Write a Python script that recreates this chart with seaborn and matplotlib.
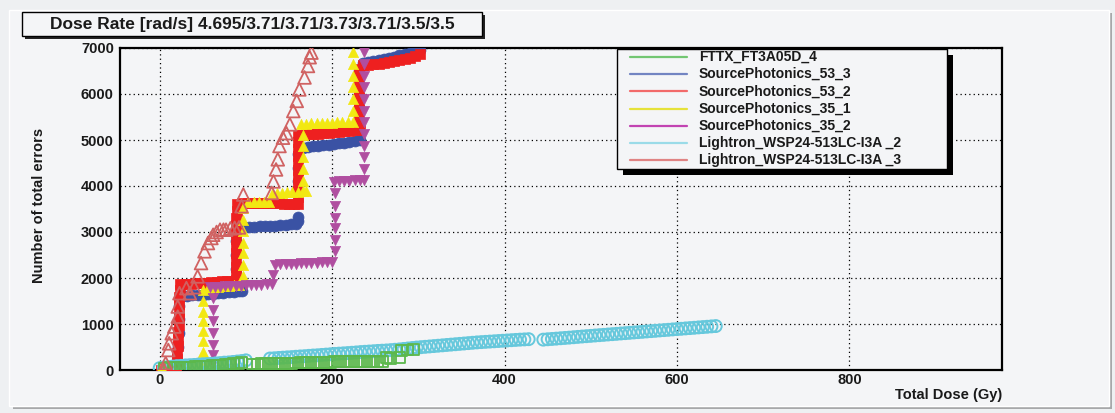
import matplotlib
matplotlib.use("Agg")
import matplotlib.pyplot as plt
import seaborn as sns
from matplotlib.patches import Rectangle
from matplotlib.lines import Line2D
from matplotlib.ticker import MultipleLocator

# ---------------- data ----------------
series_names = ["FTTX_FT3A05D_4", "SourcePhotonics_53_3", "SourcePhotonics_53_2",
                "SourcePhotonics_35_1", "SourcePhotonics_35_2",
                "Lightron_WSP24-513LC-I3A _2", "Lightron_WSP24-513LC-I3A _3"]

fttx_x = [6, 11, 16, 21, 26, 31, 36, 41, 46, 51, 56, 61, 66, 71, 76, 81, 86, 91, 95,
          108, 113, 118, 123, 128, 133, 138, 143, 148, 153, 158, 163, 168, 173, 178,
          183, 188, 193, 198, 203, 208, 213, 218, 223, 228, 233, 238, 243, 248, 253, 258,
          263, 268, 278, 280, 287, 294]
fttx_y = [40, 45, 50, 55, 60, 60, 65, 70, 75, 80, 85, 90, 95, 100, 110, 120, 135, 150, 165,
          130, 130, 132, 135, 137, 140, 142, 145, 147, 150, 152, 155, 158, 160, 162,
          165, 167, 170, 172, 175, 175, 178, 180, 180, 182, 185, 185, 188, 190, 190, 192,
          265, 260, 265, 430, 435, 440]

sp533_x = [20, 21, 22, 22, 23,
           26, 32, 38, 44, 50, 56, 62, 68, 74, 80, 86, 92, 96,
           89, 89, 89, 89, 90,
           98, 104, 110, 116, 122, 128, 134, 140, 146, 152, 158, 161, 161,
           160, 160, 160, 161,
           166, 172, 178, 184, 190, 196, 202, 208, 214, 220, 226, 232,
           231, 231, 231, 231,
           236, 242, 248, 254, 260, 266, 272, 278, 284, 290, 296, 302]
sp533_y = [200, 500, 800, 1100, 1400,
           1600, 1610, 1620, 1630, 1640, 1650, 1660, 1670, 1680, 1690, 1700, 1710, 1720,
           1900, 2200, 2500, 2800, 3050,
           3100, 3110, 3115, 3120, 3130, 3135, 3140, 3150, 3155, 3165, 3180, 3230, 3330,
           3800, 4100, 4400, 4700,
           4830, 4850, 4860, 4870, 4885, 4900, 4910, 4925, 4940, 4955, 4970, 4990,
           5300, 5700, 6100, 6500,
           6680, 6700, 6720, 6740, 6760, 6780, 6810, 6840, 6870, 6900, 6930, 6960]

sp532_x = [1, 6, 12,
           19, 20, 20, 21, 21, 21, 22, 22, 22, 23, 23, 24, 24,
           30, 36, 42, 48, 54, 60, 66, 72, 78, 84, 88,
           89, 89, 89, 89, 89, 89, 89, 89, 89, 90, 90,
           96, 102, 108, 114, 120, 126, 132, 138, 144, 150, 156, 161,
           160, 160, 160, 160, 160, 160, 160, 160, 160, 161,
           166, 172, 178, 184, 190, 196, 202, 208, 214, 220, 226, 232,
           231, 231, 231, 231, 231, 231, 231, 231, 231,
           236, 242, 248, 254, 260, 266, 272, 278, 284, 290, 296, 302]
sp532_y = [10, 20, 30,
           80, 230, 380, 530, 680, 830, 980, 1130, 1280, 1430, 1580, 1730, 1860,
           1870, 1880, 1885, 1890, 1900, 1905, 1915, 1925, 1935, 1945, 1960,
           2100, 2250, 2400, 2550, 2700, 2850, 3000, 3150, 3300, 3450, 3600,
           3640, 3640, 3635, 3630, 3630, 3625, 3620, 3620, 3615, 3610, 3610, 3605,
           3750, 3900, 4050, 4200, 4350, 4500, 4650, 4800, 4950, 5100,
           5110, 5120, 5130, 5140, 5150, 5160, 5170, 5180, 5190, 5200, 5210, 5220,
           5350, 5500, 5650, 5800, 5950, 6100, 6250, 6400, 6550,
           6620, 6640, 6650, 6660, 6670, 6690, 6710, 6730, 6760, 6790, 6820, 6860]

sp351_x = [0, 4,
           50, 50, 50, 50, 50, 50, 50, 50,
           56, 62, 68, 74, 80, 86, 92,
           97, 97, 97, 97, 97, 97, 97,
           103, 109, 115, 121, 127,
           130, 136, 142, 148, 154, 160, 166, 170,
           166, 166, 166, 166, 166,
           164, 170, 176, 182, 188, 194, 200, 206, 212, 218, 224,
           224, 224, 224, 224, 224, 224]
sp351_y = [0, 10,
           145, 400, 620, 840, 1055, 1270, 1490, 1745,
           1790, 1800, 1810, 1820, 1830, 1840, 1850,
           2035, 2290, 2545, 2760, 3015, 3270, 3525,
           3650, 3650, 3655, 3660, 3660,
           3830, 3840, 3850, 3860, 3870, 3880, 3890, 3890,
           4100, 4360, 4620, 4860, 5100,
           5340, 5350, 5360, 5370, 5370, 5380, 5380, 5390, 5390, 5400, 5400,
           5630, 5890, 6150, 6390, 6650, 6910]

sp352_x = [62, 62, 62, 62, 62, 62, 62,
           58, 64, 70, 76, 82, 88, 94, 100, 106, 112, 118, 124, 130,
           131,
           134, 140, 146, 152, 158, 164, 170, 176, 182, 188, 194, 200,
           203, 203, 203, 203, 203, 203,
           202, 208, 214, 220, 226, 232, 237,
           237, 237, 237, 237, 237, 237, 237, 237, 237, 237, 237]
sp352_y = [145, 330, 545, 800, 1055, 1310, 1560,
           1800, 1810, 1815, 1820, 1825, 1830, 1835, 1840, 1845, 1850, 1855, 1860, 1870,
           2070,
           2290, 2300, 2305, 2310, 2315, 2320, 2325, 2330, 2335, 2340, 2345, 2350,
           2580, 2835, 3090, 3310, 3560, 3850,
           4090, 4100, 4105, 4110, 4120, 4130, 4140,
           4360, 4620, 4860, 5120, 5385, 5630, 5890, 6150, 6390, 6650, 6910]

li2_x = [0, 5, 10, 15, 20, 25, 30, 35, 40, 45, 50, 55, 60, 65, 70, 75, 80, 85, 90, 95, 100,
         128, 133, 138, 143, 148, 153, 158, 163, 168, 173, 178, 183, 188, 193, 198, 203,
         208, 213, 218, 223, 228, 233, 238, 243, 248, 253, 258, 263, 268, 273, 278, 283,
         288, 293, 298, 303, 308, 313, 318, 323, 328, 333, 338, 343, 348, 353, 358, 363,
         368, 373, 378, 383, 388, 393, 398, 403, 408, 413, 418, 423, 428,
         445, 450, 455, 460, 465, 470, 475, 480, 485, 490, 495, 500, 505, 510, 515, 520,
         525, 530, 535, 540, 545, 550, 555, 560, 565, 570, 575, 580, 585, 590, 595, 600,
         605, 610, 615, 620, 625, 630, 635, 640, 645]
li2_y = [40, 55, 65, 75, 85, 90, 100, 105, 110, 120, 125, 130, 135, 145, 150, 160, 165,
         175, 185, 195, 210,
         250, 255, 262, 268, 275, 280, 288, 295, 300, 308, 315, 320, 328, 335, 342, 350,
         356, 362, 368, 375, 382, 390, 396, 402, 408, 415, 420, 425, 432, 440, 448, 458,
         468, 478, 488, 496, 504, 512, 520, 528, 536, 544, 552, 560, 568, 576, 584, 592,
         600, 606, 612, 618, 624, 630, 636, 642, 648, 654, 660, 665, 670,
         660, 668, 675, 682, 690, 697, 704, 712, 720, 728, 735, 742, 750, 757, 764, 772,
         779, 786, 794, 801, 808, 816, 823, 830, 838, 845, 852, 860, 867, 874, 882, 889,
         896, 904, 911, 918, 926, 933, 940, 948, 955]

li3_x = [5, 7, 10, 11, 14, 17, 21, 21, 23, 31, 35, 40, 44, 48, 52, 56, 60, 62, 66,
         70, 74, 77, 82, 87, 92, 95, 97, 130, 132, 135, 137, 139, 143, 147, 151, 155,
         159, 162, 168, 172, 174, 176]
li3_y = [0, 150, 435, 580, 800, 945, 1160, 1380, 1670, 1780, 1670, 1800, 2035, 2325,
         2580, 2760, 2870, 2940, 3000, 3050, 3050, 3050, 3080, 3090, 3100, 3560, 3815,
         3850, 4100, 4360, 4580, 4870, 5050, 5150, 5340, 5630, 5850, 6100, 6360, 6610,
         6800, 6900]

x_ticks = [0, 200, 400, 600, 800]
y_ticks = [0, 1000, 2000, 3000, 4000, 5000, 6000, 7000]
title_text = "Dose Rate [rad/s] 4.695/3.71/3.71/3.73/3.71/3.5/3.5"

# ---------------- styling ----------------
W, H = 1115, 413
BG = "#f4f5f7"
sns.set_theme(style="white")
plt.rcParams["font.family"] = ["Liberation Sans", "DejaVu Sans"]
plt.rcParams["font.weight"] = "bold"

fig = plt.figure(figsize=(W / 100, H / 100), dpi=100, facecolor="#eef0f2")


def rect(px0, py0, px1, py1, **kw):
    return Rectangle((px0 / W, 1 - py1 / H), (px1 - px0) / W, (py1 - py0) / H,
                     transform=fig.transFigure, **kw)


# canvas frame with shadow
fig.add_artist(rect(13, 13, 1112, 409, fc="#a7a8aa", ec="none", zorder=-3))
fig.add_artist(rect(9, 10, 1109, 406, fc=BG, ec="#ffffff", lw=1, zorder=-2))

ax = fig.add_axes([120 / W, 1 - 370 / H, 882 / W, 322 / H])
ax.set_facecolor(BG)

colors = ["#5cb84c", "#3a52a4", "#ee2020", "#f2e812", "#b04ea0", "#66c8dc", "#d06262"]
leg_colors = ["#72c672", "#7284c2", "#f26a6a", "#e6e23a", "#c244b2", "#9adbe8", "#e08484"]

# (x, y, marker, hollow, size, linewidth, zorder)
specs = [
    (fttx_x, fttx_y, "s", True, 62, 1.3, 9),
    (sp533_x, sp533_y, "o", False, 62, 0.5, 3),
    (sp532_x, sp532_y, "s", False, 60, 0.5, 4),
    (sp351_x, sp351_y, "^", False, 54, 0.5, 5),
    (sp352_x, sp352_y, "v", False, 54, 0.5, 6),
    (li2_x, li2_y, "o", True, 74, 1.4, 8),
    (li3_x, li3_y, "^", True, 84, 1.3, 10),
]
for i, (xs, ys, m, hollow, s, lw, z) in enumerate(specs):
    c = colors[i]
    sns.scatterplot(x=xs, y=ys, ax=ax, marker=m, s=s, color=c,
                    facecolor="none" if hollow else c, edgecolor=c,
                    linewidth=lw, legend=False, zorder=z)

ax.set_xlim(-46, 977)
ax.set_ylim(0, 7000)
ax.set_xticks(x_ticks)
ax.set_yticks(y_ticks)
ax.xaxis.set_minor_locator(MultipleLocator(50))
ax.yaxis.set_minor_locator(MultipleLocator(200))
ax.tick_params(axis="both", which="both", direction="in", top=False, right=False,
               colors="black", labelsize=10.5, width=1)
ax.tick_params(axis="y", which="major", length=8, pad=4.5)
ax.tick_params(axis="y", which="minor", length=7)
ax.tick_params(axis="x", which="major", length=7, pad=2.5)
ax.tick_params(axis="x", which="minor", length=3.5)
for lab in ax.get_xticklabels() + ax.get_yticklabels():
    lab.set_fontweight("bold")
    lab.set_color("#1a1a1a")
for sp in ax.spines.values():
    sp.set_color("black")
    sp.set_linewidth(1.6)
ax.grid(True, which="major", color="black", linestyle=(0, (1, 2.5)), linewidth=0.9)
ax.set_axisbelow(True)

ax.set_xlabel("Total Dose (Gy)", fontsize=10.5, fontweight="bold", color="#1a1a1a")
ax.xaxis.set_label_coords(1.0, -0.056)
ax.xaxis.label.set_horizontalalignment("right")
ax.set_ylabel("Number of total errors", fontsize=10.5, fontweight="bold", color="#1a1a1a")
ax.yaxis.set_label_coords(-0.084, 0.51)

# title box with shadow
fig.add_artist(rect(25, 15, 485, 39, fc="#222222", ec="none", zorder=8))
fig.add_artist(rect(22, 12, 482, 36, fc=BG, ec="black", lw=1, zorder=9))
fig.text(252 / W, 1 - 24.5 / H, title_text, ha="center", va="center",
         fontsize=12.5, fontweight="bold", color="#1a1a1a", zorder=10)

# legend box with shadow
fig.add_artist(rect(623, 55, 953, 175, fc="black", ec="none", zorder=8))
fig.add_artist(rect(617, 49, 947, 169, fc=BG, ec="black", lw=1, zorder=9))
for i, name in enumerate(series_names):
    py = 56.7 + i * 17.3
    fig.add_artist(Line2D([630 / W, 687 / W], [1 - py / H, 1 - py / H],
                          transform=fig.transFigure, color=leg_colors[i], lw=1.6, zorder=10))
    fig.text(699 / W, 1 - py / H, name, ha="left", va="center", fontsize=10,
             fontweight="bold", color="#1a1a1a", zorder=10)

fig.savefig("out.png", dpi=100, facecolor=fig.get_facecolor())
